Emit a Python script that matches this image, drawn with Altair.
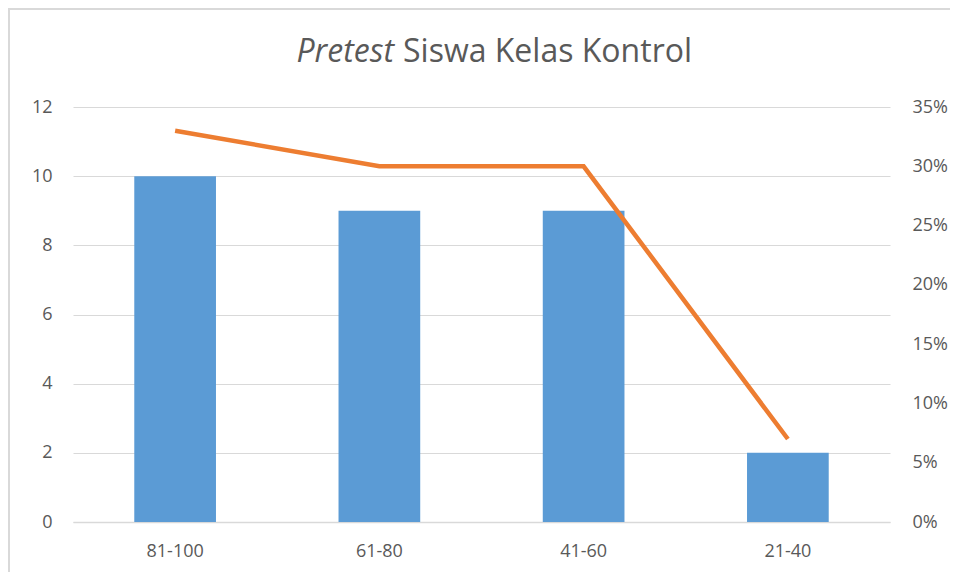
import altair as alt
import pandas as pd

categories = ["81-100", "61-80", "41-60", "21-40"]
counts = [10, 9, 9, 2]
percents = [0.33, 0.30, 0.30, 0.07]

title_italic = "Pretest"
title_rest = "Siswa Kelas Kontrol"

df = pd.DataFrame({"cat": categories, "count": counts, "pct": percents})

W, H = 817, 415
FONT = "Open Sans"
LABEL = "#595959"
GRID = "#d9d9d9"
LFS = 18

xenc = alt.X("cat:N", sort=categories,
             scale=alt.Scale(paddingInner=0.6, paddingOuter=0.3),
             axis=alt.Axis(title=None, labelAngle=0, ticks=False, domain=True,
                           domainColor=GRID, domainWidth=1.5, labelColor=LABEL,
                           labelFont=FONT, labelFontSize=LFS, labelPadding=20))

bars = alt.Chart(df).mark_bar(color="#5B9BD5").encode(
    x=xenc,
    y=alt.Y("count:Q", scale=alt.Scale(domain=[0, 12], nice=False),
            axis=alt.Axis(title=None, values=[0, 2, 4, 6, 8, 10, 12], grid=True,
                          gridColor=GRID, gridWidth=1.2, domain=False, ticks=False,
                          labelColor=LABEL, labelFont=FONT, labelFontSize=LFS,
                          labelPadding=21)),
)

line = alt.Chart(df).mark_line(color="#ED7D31", strokeWidth=4.5).encode(
    x=alt.X("cat:N", sort=categories),
    y=alt.Y("pct:Q", scale=alt.Scale(domain=[0, 0.35], nice=False),
            axis=alt.Axis(title=None, orient="right", format=".0%",
                          values=[0, 0.05, 0.1, 0.15, 0.2, 0.25, 0.3, 0.35],
                          grid=False, domain=False, ticks=False,
                          labelColor=LABEL, labelFont=FONT, labelFontSize=LFS,
                          labelPadding=22)),
)

tdf = pd.DataFrame({"a": [title_italic], "b": [title_rest]})
t1 = alt.Chart(tdf).mark_text(align="right", baseline="alphabetic", fontSize=32,
                              font=FONT, fontStyle="italic", color=LABEL).encode(
    text="a:N", x=alt.value(321), y=alt.value(-45))
t2 = alt.Chart(tdf).mark_text(align="left", baseline="alphabetic", fontSize=32,
                              font=FONT, color=LABEL).encode(
    text="b:N", x=alt.value(330), y=alt.value(-45))

left_edge = alt.Chart(tdf).mark_rule(color=GRID, strokeWidth=2).encode(
    x=alt.value(-64), y=alt.value(-99), y2=alt.value(H + 200))
top_edge = alt.Chart(tdf).mark_rule(color=GRID, strokeWidth=2).encode(
    x=alt.value(-65), x2=alt.value(W + 200), y=alt.value(-98))

chart = alt.layer(bars, line, t1, t2, left_edge, top_edge).resolve_scale(y="independent").properties(
    width=W, height=H,
    autosize=alt.AutoSizeParams(type="none"),
    padding={"left": 65, "top": 99, "right": 60, "bottom": 50},
).configure_view(stroke=None)

chart.save("out.html", embed_options={"renderer": "svg", "actions": False})
